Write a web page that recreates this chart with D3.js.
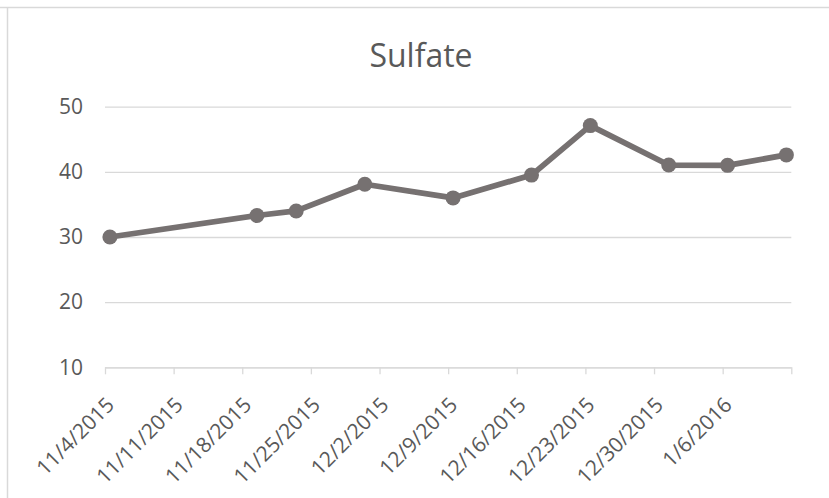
<!DOCTYPE html>
<html>
<head>
<meta charset="utf-8">
<script src="https://cdn.jsdelivr.net/npm/d3@7"></script>
<style>
  html, body { margin: 0; padding: 0; background: #ffffff; }
  svg { display: block; }
</style>
</head>
<body>
<svg id="chart" width="829" height="498"></svg>
<script>
// ---- data ----
const title = "Sulfate";
const sampleDates = ["2015-11-04","2015-11-19","2015-11-23","2015-11-30","2015-12-09","2015-12-17","2015-12-23","2015-12-31","2016-01-06","2016-01-12"];
const sulfateValues = [30, 33.3, 34.0, 38.1, 36.0, 39.5, 47.1, 41.05, 41.0, 42.6];
const yTickValues = [10, 20, 30, 40, 50];
const xTickLabels = ["11/4/2015","11/11/2015","11/18/2015","11/25/2015","12/2/2015","12/9/2015","12/16/2015","12/23/2015","12/30/2015","1/6/2016"];
const axisStart = "2015-11-04";
const axisEnd = "2016-01-13";

// ---- layout ----
const W = 829, H = 498;
const plot = { left: 105, right: 791.3, top: 106.7, bottom: 367.3 };
const gridColor = "#d9d9d9";
const textColor = "#595959";
const lineColor = "#767171";
const font = "'Open Sans', 'Noto Sans', sans-serif";

const parse = d3.utcParse("%Y-%m-%d");
const parseLabel = d3.utcParse("%m/%d/%Y");

const x = d3.scaleUtc()
  .domain([parse(axisStart), parse(axisEnd)])
  .range([plot.left, plot.right]);
const y = d3.scaleLinear()
  .domain([d3.min(yTickValues), d3.max(yTickValues)])
  .range([plot.bottom, plot.top]);

const svg = d3.select("#chart");

// chart border (top and left visible)
svg.append("line").attr("x1", 0).attr("x2", W).attr("y1", 7.5).attr("y2", 7.5)
  .attr("stroke", gridColor).attr("stroke-width", 1.5);
svg.append("line").attr("x1", 7.5).attr("x2", 7.5).attr("y1", 7.5).attr("y2", H)
  .attr("stroke", gridColor).attr("stroke-width", 1.5);

// title
svg.append("text")
  .attr("x", 421).attr("y", 67)
  .attr("text-anchor", "middle")
  .attr("font-family", font)
  .attr("font-size", 32)
  .attr("fill", textColor)
  .text(title);

// y gridlines + labels
const yAxis = d3.axisLeft(y).tickValues(yTickValues).tickSize(-(plot.right - plot.left)).tickPadding(22);
const gy = svg.append("g").attr("transform", `translate(${plot.left},0)`).call(yAxis);
gy.select(".domain").remove();
gy.selectAll(".tick line").attr("stroke", gridColor).attr("stroke-width", 1.3);
gy.selectAll(".tick text")
  .attr("font-family", font).attr("font-size", 21).attr("fill", textColor);

// x axis
const tickDates = d3.range(0, 11).map(i => d3.utcDay.offset(parse(axisStart), 7 * i));
const labelMap = new Map(xTickLabels.map(l => [+parseLabel(l), l]));
const xAxis = d3.axisBottom(x).tickValues(tickDates).tickSize(7).tickSizeOuter(0)
  .tickFormat(d => labelMap.get(+d) || "");
const gx = svg.append("g").attr("transform", `translate(0,${plot.bottom})`).call(xAxis);
gx.select(".domain").attr("stroke", gridColor).attr("stroke-width", 1.3);
gx.selectAll(".tick line").attr("stroke", gridColor).attr("stroke-width", 1.3);
gx.selectAll(".tick text")
  .attr("font-family", font).attr("font-size", 21).attr("fill", textColor)
  .attr("text-anchor", "end")
  .attr("dy", null)
  .attr("y", null)
  .attr("transform", "translate(10,39) rotate(-45)");

// data
const points = sampleDates.map((d, i) => ({ date: d3.utcHour.offset(parse(d), 12), value: sulfateValues[i] }));

const line = d3.line().x(d => x(d.date)).y(d => y(d.value));
svg.append("path")
  .datum(points)
  .attr("d", line)
  .attr("fill", "none")
  .attr("stroke", lineColor)
  .attr("stroke-width", 5.75)
  .attr("stroke-linejoin", "round")
  .attr("stroke-linecap", "round");

svg.append("g").selectAll("circle")
  .data(points)
  .join("circle")
  .attr("cx", d => x(d.date))
  .attr("cy", d => y(d.value))
  .attr("r", 7.5)
  .attr("fill", lineColor);
</script>
</body>
</html>
